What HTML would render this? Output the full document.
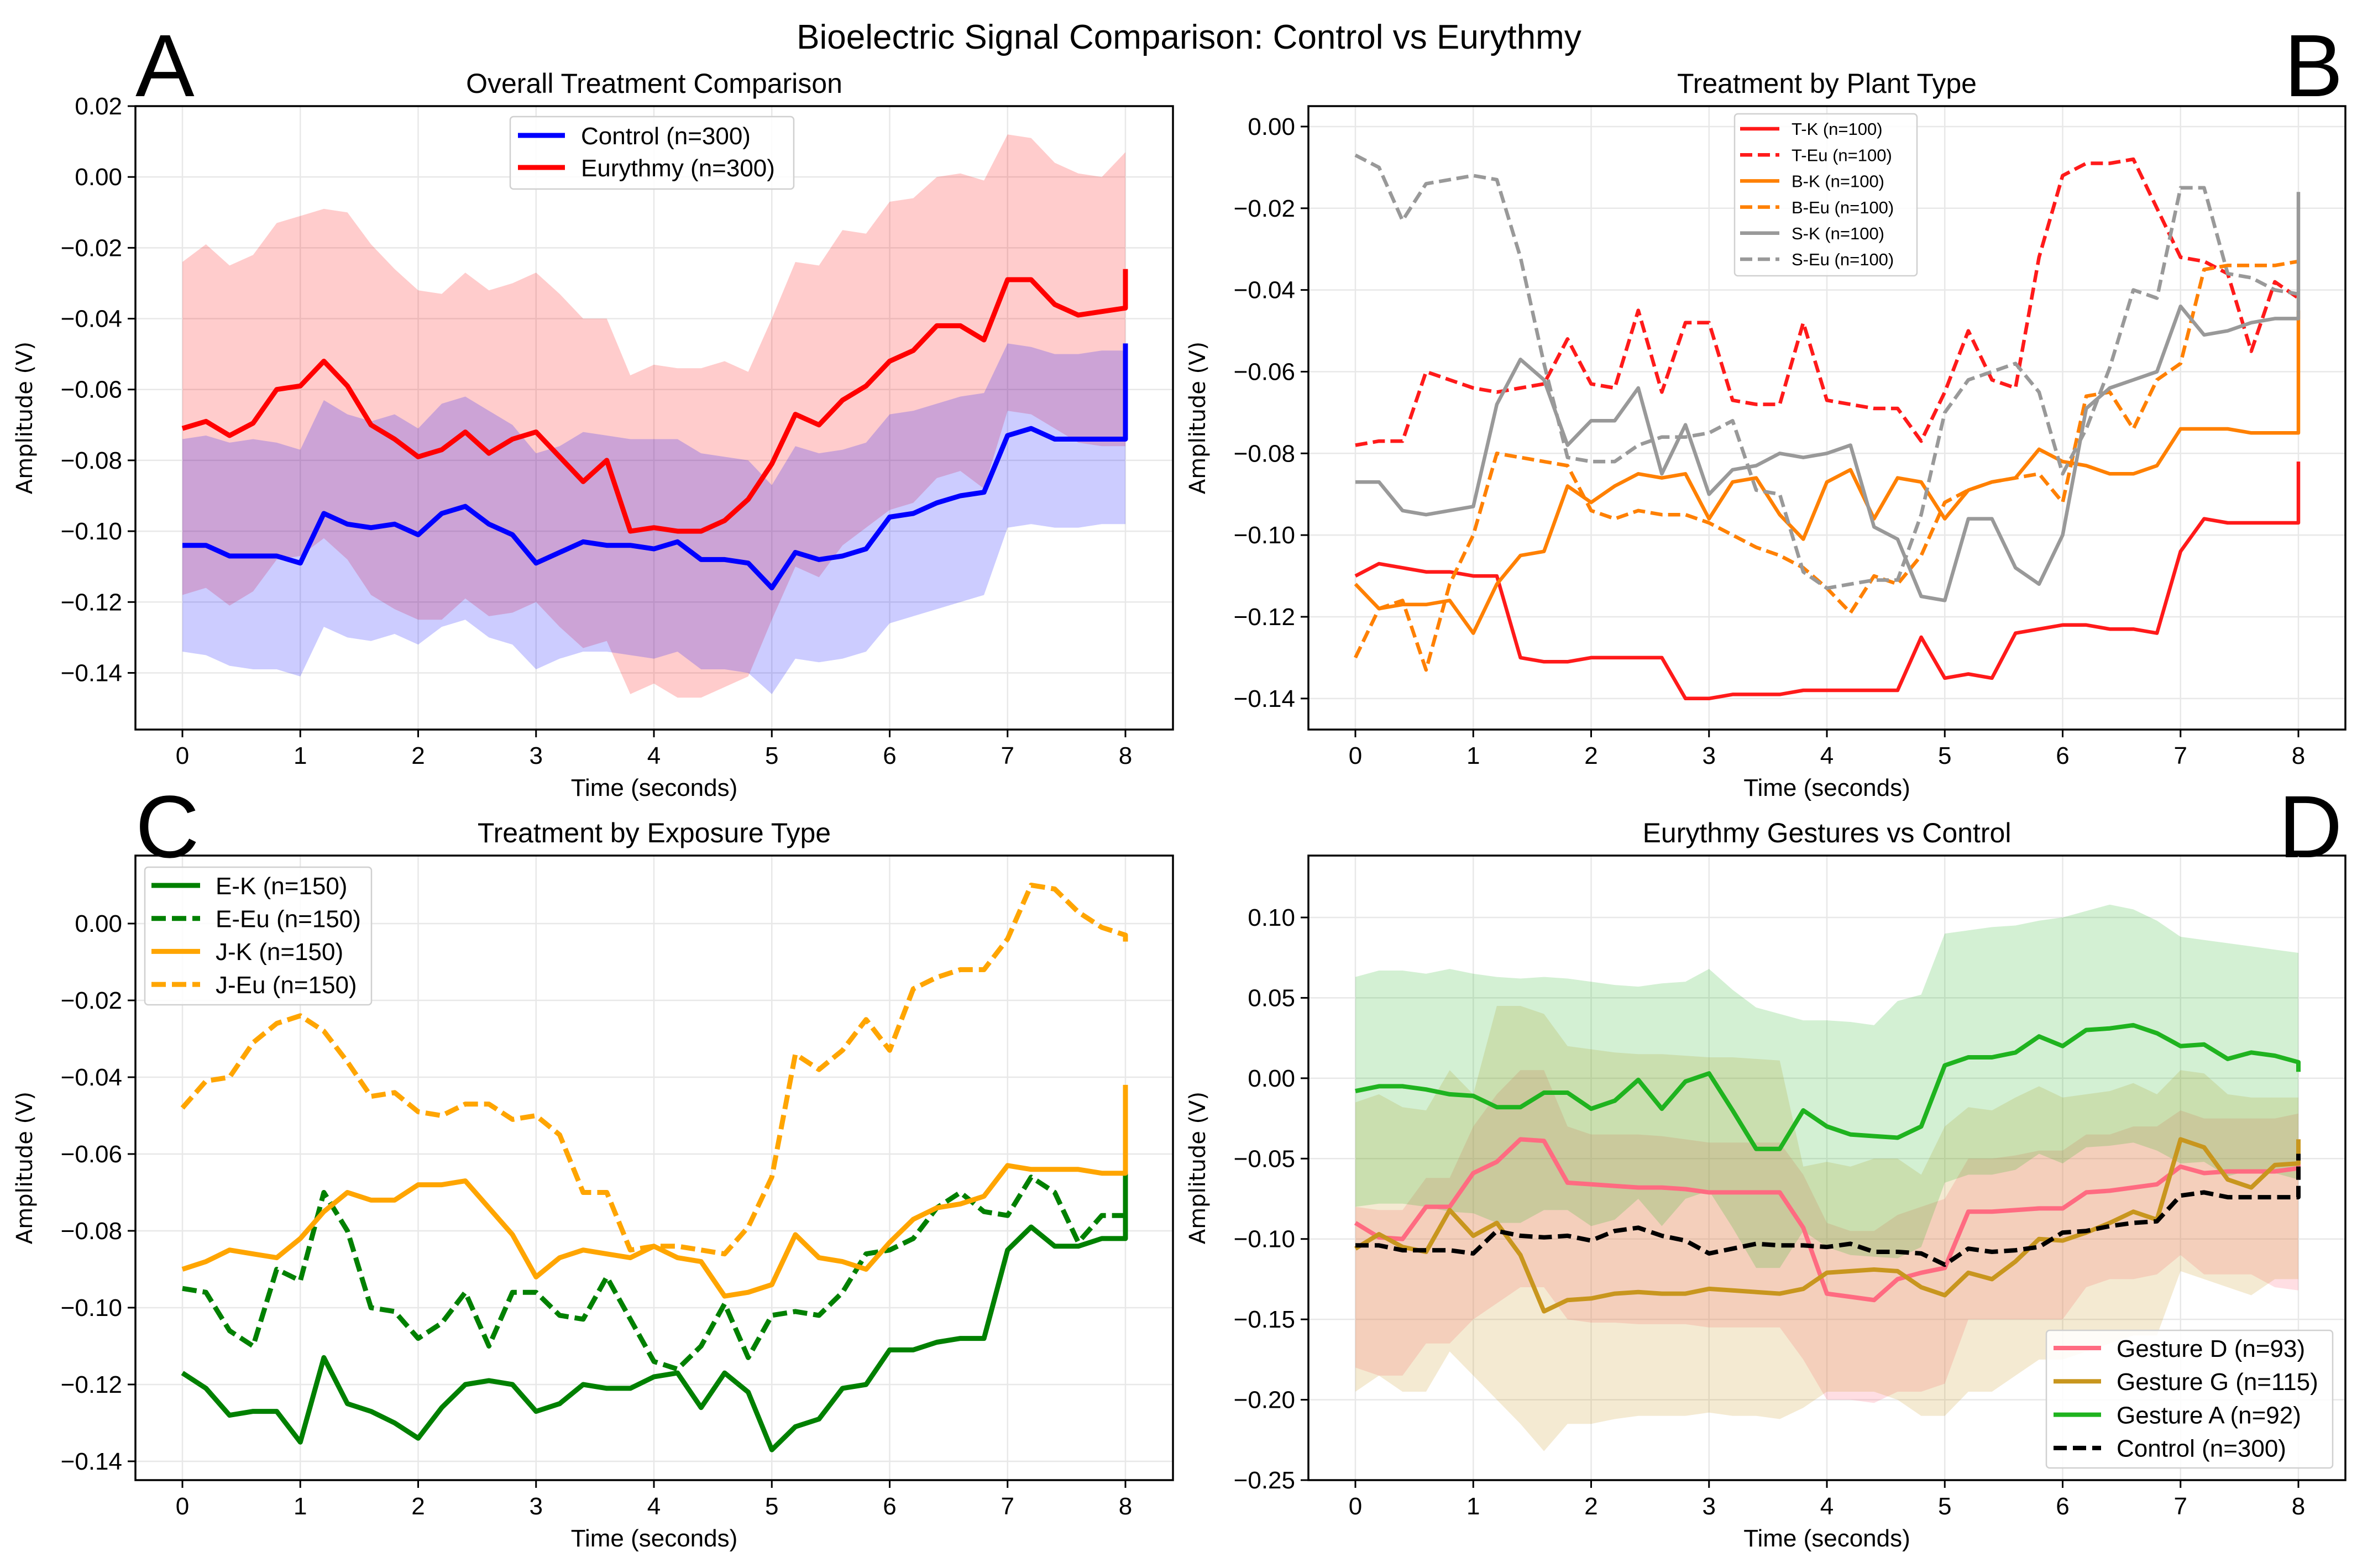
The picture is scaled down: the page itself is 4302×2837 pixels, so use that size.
<!DOCTYPE html>
<html><head><meta charset="utf-8"><style>
html,body{margin:0;padding:0;background:#fff}
svg{display:block}
text{font-family:"Liberation Sans",sans-serif;fill:#000}
</style></head><body>
<svg id="fig" xmlns="http://www.w3.org/2000/svg" width="4302" height="2837" viewBox="0 0 4302 2837">
<rect width="4302" height="2837" fill="#fff"/>
<text x="2151" y="88" font-size="62" text-anchor="middle">Bioelectric Signal Comparison: Control vs Eurythmy</text>
<text x="245" y="174" font-size="160">A</text>
<text x="4132" y="174" font-size="160">B</text>
<text x="245" y="1551" font-size="160">C</text>
<text x="4122" y="1551" font-size="160">D</text>
</svg>
<script>
const T=[0,0.2,0.4,0.6,0.8,1,1.2,1.4,1.6,1.8,2,2.2,2.4,2.6,2.8,3,3.2,3.4,3.6,3.8,4,4.2,4.4,4.6,4.8,5,5.2,5.4,5.6,5.8,6,6.2,6.4,6.6,6.8,7,7.2,7.4,7.6,7.8,8,8];
const xTicks=[0,1,2,3,4,5,6,7,8];
const yTicksA=[0.02,0,-0.02,-0.04,-0.06,-0.08,-0.10,-0.12,-0.14];
const yTicksB=[0,-0.02,-0.04,-0.06,-0.08,-0.10,-0.12,-0.14];
const yTicksC=[0,-0.02,-0.04,-0.06,-0.08,-0.10,-0.12,-0.14];
const yTicksD=[0.10,0.05,0,-0.05,-0.10,-0.15,-0.20,-0.25];
// Panel A
const euryMean=[-0.071,-0.069,-0.073,-0.0695,-0.060,-0.059,-0.052,-0.059,-0.070,-0.074,-0.079,-0.077,-0.072,-0.078,-0.074,-0.072,-0.079,-0.086,-0.080,-0.100,-0.099,-0.100,-0.100,-0.097,-0.091,-0.081,-0.067,-0.070,-0.063,-0.059,-0.052,-0.049,-0.042,-0.042,-0.046,-0.029,-0.029,-0.036,-0.039,-0.038,-0.037,-0.026];
const euryUpper=[-0.024,-0.019,-0.025,-0.022,-0.013,-0.011,-0.009,-0.010,-0.019,-0.026,-0.032,-0.033,-0.027,-0.032,-0.030,-0.027,-0.033,-0.040,-0.040,-0.056,-0.053,-0.054,-0.054,-0.052,-0.055,-0.040,-0.024,-0.025,-0.015,-0.016,-0.007,-0.006,0.000,0.001,-0.001,0.012,0.011,0.004,0.001,0.000,0.007];
const euryLower=[-0.118,-0.116,-0.121,-0.117,-0.108,-0.107,-0.102,-0.108,-0.118,-0.122,-0.125,-0.125,-0.119,-0.124,-0.123,-0.120,-0.127,-0.133,-0.131,-0.146,-0.143,-0.147,-0.147,-0.144,-0.141,-0.125,-0.110,-0.113,-0.104,-0.099,-0.094,-0.092,-0.085,-0.083,-0.088,-0.066,-0.067,-0.071,-0.075,-0.076,-0.076];
const ctrlMean=[-0.104,-0.104,-0.107,-0.107,-0.107,-0.109,-0.095,-0.098,-0.099,-0.098,-0.101,-0.095,-0.093,-0.098,-0.101,-0.109,-0.106,-0.103,-0.104,-0.104,-0.105,-0.103,-0.108,-0.108,-0.109,-0.116,-0.106,-0.108,-0.107,-0.105,-0.096,-0.095,-0.092,-0.090,-0.089,-0.073,-0.071,-0.074,-0.074,-0.074,-0.074,-0.047];
const ctrlUpper=[-0.074,-0.073,-0.075,-0.074,-0.075,-0.077,-0.063,-0.067,-0.069,-0.067,-0.071,-0.064,-0.062,-0.066,-0.070,-0.078,-0.076,-0.072,-0.073,-0.074,-0.074,-0.074,-0.078,-0.079,-0.080,-0.087,-0.076,-0.078,-0.077,-0.075,-0.067,-0.066,-0.064,-0.062,-0.061,-0.047,-0.048,-0.050,-0.050,-0.049,-0.049];
const ctrlLower=[-0.134,-0.135,-0.138,-0.139,-0.139,-0.141,-0.127,-0.130,-0.131,-0.129,-0.132,-0.127,-0.125,-0.130,-0.132,-0.139,-0.136,-0.134,-0.134,-0.135,-0.136,-0.134,-0.139,-0.139,-0.140,-0.146,-0.136,-0.137,-0.136,-0.134,-0.126,-0.124,-0.122,-0.120,-0.118,-0.099,-0.098,-0.099,-0.099,-0.098,-0.098];
// Panel B
const tK=[-0.110,-0.107,-0.108,-0.109,-0.109,-0.110,-0.110,-0.130,-0.131,-0.131,-0.130,-0.130,-0.130,-0.130,-0.140,-0.140,-0.139,-0.139,-0.139,-0.138,-0.138,-0.138,-0.138,-0.138,-0.125,-0.135,-0.134,-0.135,-0.124,-0.123,-0.122,-0.122,-0.123,-0.123,-0.124,-0.104,-0.096,-0.097,-0.097,-0.097,-0.097,-0.082];
const tEu=[-0.078,-0.077,-0.077,-0.060,-0.062,-0.064,-0.065,-0.064,-0.063,-0.052,-0.063,-0.064,-0.045,-0.065,-0.048,-0.048,-0.067,-0.068,-0.068,-0.048,-0.067,-0.068,-0.069,-0.069,-0.077,-0.065,-0.050,-0.062,-0.064,-0.032,-0.012,-0.009,-0.009,-0.008,-0.020,-0.032,-0.033,-0.036,-0.055,-0.038,-0.042,-0.042];
const bK=[-0.112,-0.118,-0.117,-0.117,-0.116,-0.124,-0.112,-0.105,-0.104,-0.088,-0.092,-0.088,-0.085,-0.086,-0.085,-0.096,-0.087,-0.086,-0.095,-0.101,-0.087,-0.084,-0.096,-0.086,-0.087,-0.096,-0.089,-0.087,-0.086,-0.079,-0.082,-0.083,-0.085,-0.085,-0.083,-0.074,-0.074,-0.074,-0.075,-0.075,-0.075,-0.045];
const bEu=[-0.130,-0.118,-0.116,-0.133,-0.112,-0.100,-0.080,-0.081,-0.082,-0.083,-0.094,-0.096,-0.094,-0.095,-0.095,-0.097,-0.100,-0.103,-0.105,-0.108,-0.113,-0.119,-0.110,-0.112,-0.105,-0.092,-0.089,-0.087,-0.086,-0.085,-0.092,-0.066,-0.065,-0.074,-0.062,-0.058,-0.035,-0.034,-0.034,-0.034,-0.033,-0.033];
const sK=[-0.087,-0.087,-0.094,-0.095,-0.094,-0.093,-0.068,-0.057,-0.062,-0.078,-0.072,-0.072,-0.064,-0.085,-0.073,-0.090,-0.084,-0.083,-0.080,-0.081,-0.080,-0.078,-0.098,-0.101,-0.115,-0.116,-0.096,-0.096,-0.108,-0.112,-0.100,-0.069,-0.064,-0.062,-0.060,-0.044,-0.051,-0.050,-0.048,-0.047,-0.047,-0.016];
const sEu=[-0.007,-0.010,-0.023,-0.014,-0.013,-0.012,-0.013,-0.032,-0.058,-0.081,-0.082,-0.082,-0.078,-0.076,-0.076,-0.075,-0.072,-0.089,-0.090,-0.109,-0.113,-0.112,-0.111,-0.111,-0.095,-0.070,-0.062,-0.060,-0.058,-0.065,-0.085,-0.074,-0.059,-0.040,-0.042,-0.015,-0.015,-0.036,-0.037,-0.040,-0.041,-0.041];
// Panel C
const eK=[-0.117,-0.121,-0.128,-0.127,-0.127,-0.135,-0.113,-0.125,-0.127,-0.130,-0.134,-0.126,-0.120,-0.119,-0.120,-0.127,-0.125,-0.120,-0.121,-0.121,-0.118,-0.117,-0.126,-0.117,-0.122,-0.137,-0.131,-0.129,-0.121,-0.120,-0.111,-0.111,-0.109,-0.108,-0.108,-0.085,-0.079,-0.084,-0.084,-0.082,-0.082,-0.065];
const eEu=[-0.095,-0.096,-0.106,-0.110,-0.090,-0.093,-0.070,-0.080,-0.100,-0.101,-0.108,-0.104,-0.096,-0.110,-0.096,-0.096,-0.102,-0.103,-0.092,-0.103,-0.114,-0.116,-0.110,-0.099,-0.113,-0.102,-0.101,-0.102,-0.096,-0.086,-0.085,-0.082,-0.074,-0.070,-0.075,-0.076,-0.066,-0.070,-0.083,-0.076,-0.076,-0.076];
const jK=[-0.090,-0.088,-0.085,-0.086,-0.087,-0.082,-0.075,-0.070,-0.072,-0.072,-0.068,-0.068,-0.067,-0.074,-0.081,-0.092,-0.087,-0.085,-0.086,-0.087,-0.084,-0.087,-0.088,-0.097,-0.096,-0.094,-0.081,-0.087,-0.088,-0.090,-0.083,-0.077,-0.074,-0.073,-0.071,-0.063,-0.064,-0.064,-0.064,-0.065,-0.065,-0.042];
const jEu=[-0.048,-0.041,-0.040,-0.031,-0.026,-0.024,-0.028,-0.036,-0.045,-0.044,-0.049,-0.050,-0.047,-0.047,-0.051,-0.050,-0.055,-0.070,-0.070,-0.085,-0.084,-0.084,-0.085,-0.086,-0.079,-0.066,-0.034,-0.038,-0.033,-0.025,-0.033,-0.017,-0.014,-0.012,-0.012,-0.004,0.010,0.009,0.003,-0.001,-0.003,-0.005];
// Panel D
const gA=[-0.008,-0.005,-0.005,-0.007,-0.010,-0.011,-0.018,-0.018,-0.009,-0.009,-0.019,-0.014,-0.001,-0.019,-0.002,0.003,-0.020,-0.044,-0.044,-0.020,-0.030,-0.035,-0.036,-0.037,-0.030,0.008,0.013,0.013,0.016,0.026,0.020,0.030,0.031,0.033,0.028,0.020,0.021,0.012,0.016,0.014,0.010,0.004];
const gD=[-0.090,-0.099,-0.100,-0.080,-0.080,-0.059,-0.052,-0.038,-0.039,-0.065,-0.066,-0.067,-0.068,-0.068,-0.069,-0.071,-0.071,-0.071,-0.071,-0.093,-0.134,-0.136,-0.138,-0.125,-0.121,-0.118,-0.083,-0.083,-0.082,-0.081,-0.081,-0.071,-0.070,-0.068,-0.066,-0.055,-0.059,-0.058,-0.058,-0.058,-0.056,-0.038];
const gG=[-0.106,-0.097,-0.105,-0.108,-0.082,-0.098,-0.090,-0.110,-0.145,-0.138,-0.137,-0.134,-0.133,-0.134,-0.134,-0.131,-0.132,-0.133,-0.134,-0.131,-0.121,-0.120,-0.119,-0.120,-0.130,-0.135,-0.121,-0.125,-0.114,-0.100,-0.101,-0.096,-0.090,-0.083,-0.088,-0.038,-0.043,-0.063,-0.068,-0.054,-0.053,-0.038];
const gAUpper=[0.063,0.067,0.067,0.065,0.068,0.065,0.063,0.062,0.063,0.062,0.060,0.058,0.057,0.059,0.060,0.068,0.055,0.044,0.040,0.036,0.036,0.035,0.033,0.048,0.052,0.090,0.092,0.094,0.095,0.098,0.100,0.104,0.108,0.105,0.098,0.088,0.086,0.084,0.082,0.080,0.078];
const gALower=[-0.080,-0.078,-0.078,-0.080,-0.083,-0.084,-0.090,-0.090,-0.082,-0.082,-0.092,-0.088,-0.075,-0.092,-0.075,-0.070,-0.093,-0.118,-0.118,-0.095,-0.105,-0.110,-0.111,-0.112,-0.105,-0.065,-0.060,-0.060,-0.057,-0.047,-0.053,-0.043,-0.042,-0.040,-0.045,-0.053,-0.052,-0.061,-0.057,-0.059,-0.063];
const gGUpper=[-0.015,-0.010,-0.018,-0.020,0.005,-0.010,0.045,0.045,0.040,0.020,0.018,0.016,0.015,0.015,0.014,0.013,0.013,0.012,0.011,-0.055,-0.052,-0.055,-0.050,-0.050,-0.060,-0.030,-0.018,-0.020,-0.012,-0.005,-0.012,-0.010,-0.008,-0.003,-0.010,0.005,0.003,-0.010,-0.012,-0.012,-0.012];
const gGLower=[-0.195,-0.185,-0.195,-0.195,-0.170,-0.185,-0.200,-0.215,-0.232,-0.215,-0.215,-0.212,-0.210,-0.210,-0.210,-0.208,-0.210,-0.210,-0.212,-0.205,-0.195,-0.195,-0.195,-0.200,-0.210,-0.210,-0.195,-0.195,-0.185,-0.175,-0.175,-0.170,-0.165,-0.160,-0.160,-0.120,-0.125,-0.130,-0.135,-0.125,-0.125];
const gDUpper=[-0.080,-0.082,-0.082,-0.062,-0.062,-0.030,-0.010,0.005,0.005,-0.030,-0.035,-0.035,-0.035,-0.036,-0.038,-0.040,-0.040,-0.040,-0.040,-0.060,-0.090,-0.095,-0.095,-0.085,-0.080,-0.075,-0.050,-0.050,-0.048,-0.045,-0.045,-0.035,-0.035,-0.030,-0.030,-0.020,-0.025,-0.025,-0.025,-0.025,-0.022];
const gDLower=[-0.180,-0.185,-0.185,-0.165,-0.165,-0.150,-0.140,-0.130,-0.130,-0.150,-0.152,-0.152,-0.153,-0.153,-0.153,-0.155,-0.155,-0.155,-0.155,-0.175,-0.200,-0.200,-0.202,-0.195,-0.195,-0.190,-0.150,-0.150,-0.150,-0.150,-0.150,-0.130,-0.125,-0.125,-0.122,-0.110,-0.122,-0.122,-0.122,-0.130,-0.132];

const NS='http://www.w3.org/2000/svg';
const fig=document.getElementById('fig');
function mk(tag,attrs,parent){const e=document.createElementNS(NS,tag);for(const k in attrs)e.setAttribute(k,attrs[k]);(parent||fig).appendChild(e);return e;}
function fmt(v,d){const s=Math.abs(v).toFixed(d);return (v<-1e-9?'\u2212':'')+s;}

function panel(cfg){
  const g=mk('g',{});
  
  
  const xs=t=>cfg.x0+(cfg.x8-cfg.x0)*t/8;
  const ys=v=>cfg.top+(cfg.ymax-v)/(cfg.ymax-cfg.ymin)*(cfg.bottom-cfg.top);
  xTicks.forEach(t=>{const l=mk('line',{x1:xs(t),x2:xs(t),y1:cfg.top,y2:cfg.bottom,stroke:'#e8e8e8','stroke-width':2.5},g);
    });
  cfg.yticks.forEach(v=>{const l=mk('line',{x1:cfg.left,x2:cfg.right,y1:ys(v),y2:ys(v),stroke:'#e8e8e8','stroke-width':2.5},g);
    });
  (cfg.bands||[]).forEach(b=>{
    let d='';const n=Math.min(b.up.length,b.lo.length);
    for(let i=0;i<n;i++)d+=(i?'L':'M')+xs(T[i]).toFixed(1)+','+ys(b.up[i]).toFixed(1);
    for(let i=n-1;i>=0;i--)d+='L'+xs(T[i]).toFixed(1)+','+ys(b.lo[i]).toFixed(1);
    const p=mk('path',{d:d+'Z',fill:b.color,'fill-opacity':b.op||0.2,stroke:'none'},g);
    
  });
  cfg.series.forEach(s=>{
    let d='';s.data.forEach((v,i)=>{d+=(i?'L':'M')+xs(T[i]).toFixed(1)+','+ys(v).toFixed(1);});
    const at={d:d,fill:'none',stroke:s.color,'stroke-width':s.w||cfg.lw,'stroke-linejoin':'round'};
    if(s.dash)at['stroke-dasharray']=s.dash;
    const p=mk('path',at,g);
    
  });
  const fr=mk('rect',{x:cfg.left,y:cfg.top,width:cfg.right-cfg.left,height:cfg.bottom-cfg.top,fill:'none',stroke:'#000','stroke-width':3.5},g);
  
  xTicks.forEach(t=>{
    const l=mk('line',{x1:xs(t),x2:xs(t),y1:cfg.bottom,y2:cfg.bottom+14,stroke:'#000','stroke-width':3},g);
    
    const tx=mk('text',{x:xs(t),y:cfg.bottom+62,'font-size':44,'text-anchor':'middle'},g);tx.textContent=String(t);
    
  });
  cfg.yticks.forEach(v=>{
    const l=mk('line',{x1:cfg.left-14,x2:cfg.left,y1:ys(v),y2:ys(v),stroke:'#000','stroke-width':3},g);
    
    const tx=mk('text',{x:cfg.left-24,y:ys(v)+15,'font-size':44,'text-anchor':'end'},g);tx.textContent=fmt(v,2);
    
  });
  const xl=mk('text',{x:(cfg.left+cfg.right)/2,y:cfg.bottom+120,'font-size':44,'text-anchor':'middle'},g);xl.textContent='Time (seconds)';
  
  const yc=(cfg.top+cfg.bottom)/2;
  const yl=mk('text',{x:cfg.ylx,y:yc,'font-size':40,'text-anchor':'middle',transform:'rotate(-90 '+cfg.ylx+' '+yc+')',style:'font-family:"DejaVu Sans",sans-serif'},g);yl.textContent='Amplitude (V)';
  
  const ti=mk('text',{x:(cfg.left+cfg.right)/2,y:cfg.top-24,'font-size':50,'text-anchor':'middle'},g);ti.textContent=cfg.title;
  
  const L=cfg.legend;
  const lg=mk('g',{},g);
  const bx=mk('rect',{x:L.x,y:L.y,width:L.w,height:L.h,rx:6,fill:'#fff','fill-opacity':0.85,stroke:'#d0d0d0','stroke-width':2.5},lg);
  
  cfg.series.forEach((s,i)=>{
    const y=L.y0+i*L.dy;
    const at={x1:L.lx,x2:L.lx+L.ll,y1:y,y2:y,stroke:s.color,'stroke-width':s.w||cfg.lw};
    if(s.dash)at['stroke-dasharray']=s.ldash||s.dash;
    const ln=mk('line',at,lg);
    const tx=mk('text',{x:L.tx,y:y+L.fs*0.36,'font-size':L.fs},lg);tx.textContent=s.label;
    
  });
}

panel({name:'panel-a-overall',title:'Overall Treatment Comparison',left:245,right:2122,top:192,bottom:1320,x0:330,x8:2036,ymin:-0.156,ymax:0.02,yticks:yTicksA,ylx:58,lw:9,
  bands:[{name:'eurythmy-band',up:euryUpper,lo:euryLower,color:'#ff0000'},{name:'control-band',up:ctrlUpper,lo:ctrlLower,color:'#0000ff'}],
  series:[{name:'control-line',label:'Control (n=300)',data:ctrlMean,color:'#0000ff'},{name:'eurythmy-line',label:'Eurythmy (n=300)',data:euryMean,color:'#ff0000'}],
  legend:{x:923,y:211,w:513,h:131,y0:245,dy:58,lx:937,ll:85,tx:1051,fs:44}});

panel({name:'panel-b-plant-type',title:'Treatment by Plant Type',left:2367,right:4243,top:192,bottom:1320,x0:2452,x8:4158,ymin:-0.1476,ymax:0.005,yticks:yTicksB,ylx:2180,lw:6.5,
  series:[
   {name:'t-k-line',label:'T-K (n=100)',data:tK,color:'#ff1a1a'},
   {name:'t-eu-line',label:'T-Eu (n=100)',data:tEu,color:'#ff1a1a',dash:'22,10'},
   {name:'b-k-line',label:'B-K (n=100)',data:bK,color:'#ff8000'},
   {name:'b-eu-line',label:'B-Eu (n=100)',data:bEu,color:'#ff8000',dash:'22,10'},
   {name:'s-k-line',label:'S-K (n=100)',data:sK,color:'#999999'},
   {name:'s-eu-line',label:'S-Eu (n=100)',data:sEu,color:'#999999',dash:'22,10'}],
  legend:{x:3138,y:206,w:330,h:293,y0:233,dy:47.2,lx:3148,ll:71,tx:3241,fs:31}});

panel({name:'panel-c-exposure-type',title:'Treatment by Exposure Type',left:245,right:2122,top:1548,bottom:2678,x0:330,x8:2036,ymin:-0.1449,ymax:0.0177,yticks:yTicksC,ylx:58,lw:9,
  series:[
   {name:'e-k-line',label:'E-K (n=150)',data:eK,color:'#008000'},
   {name:'e-eu-line',label:'E-Eu (n=150)',data:eEu,color:'#008000',dash:'26,11'},
   {name:'j-k-line',label:'J-K (n=150)',data:jK,color:'#ffa500'},
   {name:'j-eu-line',label:'J-Eu (n=150)',data:jEu,color:'#ffa500',dash:'26,11'}],
  legend:{x:262,y:1569,w:410,h:249,y0:1602,dy:59.7,lx:274,ll:88,tx:390,fs:44}});

panel({name:'panel-d-gestures',title:'Eurythmy Gestures vs Control',left:2367,right:4243,top:1548,bottom:2678,x0:2452,x8:4158,ymin:-0.25,ymax:0.1385,yticks:yTicksD,ylx:2180,lw:8,
  bands:[{name:'gesture-d-band',up:gDUpper,lo:gDLower,color:'#ff6b81',op:0.22},{name:'gesture-g-band',up:gGUpper,lo:gGLower,color:'#c8961e',op:0.2},{name:'gesture-a-band',up:gAUpper,lo:gALower,color:'#22b522',op:0.2}],
  series:[
   {name:'gesture-d-line',label:'Gesture D (n=93)',data:gD,color:'#ff6b81'},
   {name:'gesture-g-line',label:'Gesture G (n=115)',data:gG,color:'#c8961e'},
   {name:'gesture-a-line',label:'Gesture A (n=92)',data:gA,color:'#1fb31f'},
   {name:'control-dashed-line',label:'Control (n=300)',data:ctrlMean,color:'#000000',dash:'24,11'}],
  legend:{x:3702,y:2407,w:518,h:249,y0:2439,dy:60.3,lx:3715,ll:86,tx:3829,fs:44}});
</script>
</body></html>
